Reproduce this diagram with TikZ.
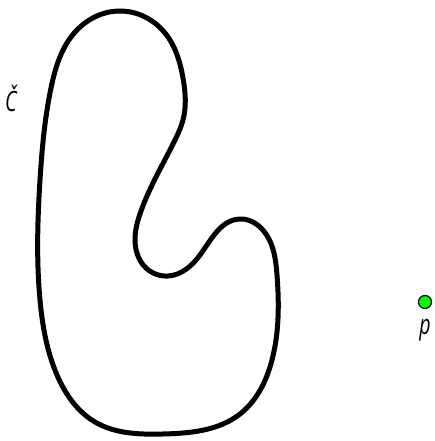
\documentclass[tikz,border=0pt]{standalone}
\usepackage{fontspec}
\setmainfont{Open Sans}
\usetikzlibrary{positioning, hobby}
\tikzset{
    krivka/.style = {line width=5pt, black, line join=round},
    bod/.style    = {circle, draw=black, fill=green, line width=1.2pt,
                     inner sep=0pt, minimum size=13pt},
    popis/.style  = {font=\fontsize{28}{30}\selectfont\itshape, inner sep=0pt,
                     xscale=0.7, transform shape},
}
\begin{document}
\begin{tikzpicture}[x=1pt, y=-1pt]
    \useasboundingbox (0,0) rectangle (434,441);
    % uzavrena krivka
    \draw[krivka, use Hobby shortcut, closed=true]
        (120,11) .. (165,33) .. (183,78) .. (183,120)
        .. (175,140) .. (157,175) .. (141,211) .. (135,240)
        .. (146,268) .. (168,276)
        .. (200,255) .. (240,219)
        .. (266,234) .. (277,275) .. (272,360)
        .. (240,414) .. (163,434) .. (95,422) .. (57,375)
        .. (40,300) .. (40,180) .. (51,88) .. (76,31);
    \node[popis, anchor=base] (C) at (11,111) {Č};
    % bod p
    \node[bod] (p) at (425,302) {};
    \node[popis, anchor=base] (plab) at (425,334) {p};
\end{tikzpicture}
\end{document}
